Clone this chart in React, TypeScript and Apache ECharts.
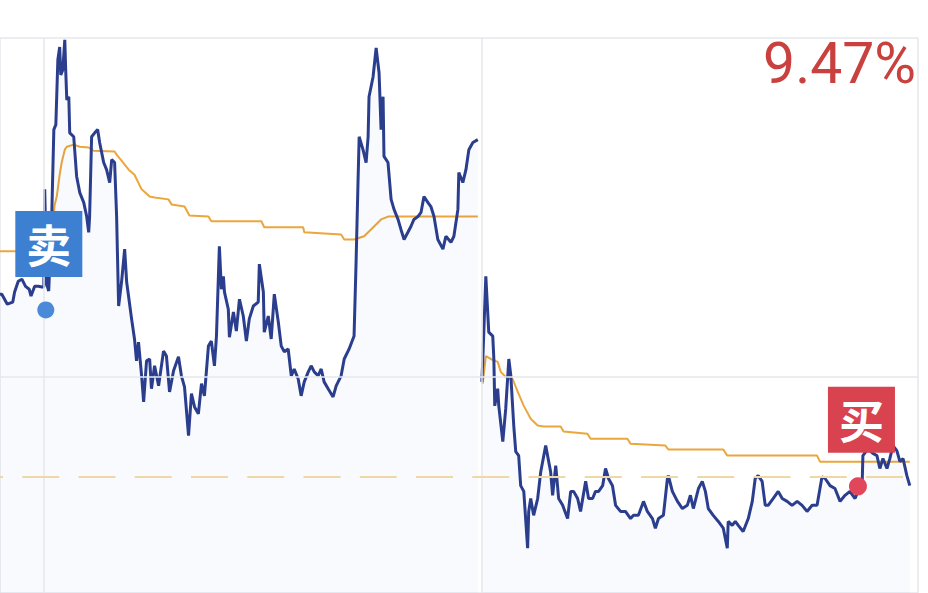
import React, { useEffect, useRef } from "react";
import * as echarts from "echarts";

// axis ranges (percent change vs. previous close, minutes of trading)
const Y_MAX = 9.47;
const Y_MIN = -6.04;
const X_MIN = -24;
const X_MAX = 479;
const daySplits = [0, 240];
const zeroLine = 0;
const costLine = -2.79;
const topLabel = "9.47%";

// [minute, pct]
const pricePrevDay: [number, number][] = [
  [-24, 2.31], [-23, 2.31], [-20, 2.03], [-17, 2.09], [-16, 2.37], [-14, 2.67], [-12, 2.73],
  [-10, 2.53], [-8, 2.45], [-7, 2.26], [-5, 2.53], [-3, 2.53], [-1, 2.51],
];

const priceDay1: [number, number][] = [
  [0.0, 2.51], [0.5, 5.24], [1.6, 2.59], [2.7, 2.4], [4.4, 4.6], [5.5, 6.91], [6.6, 7.05], [7.7, 8.86],
  [8.7, 9.22], [9.3, 8.44], [10.4, 8.58], [11.5, 9.42], [12.0, 8.58], [12.6, 7.74], [13.7, 7.83],
  [14.2, 6.82], [16.4, 6.71], [18.0, 5.6], [19.7, 5.15], [21.9, 4.87], [23.5, 4.48], [24.6, 4.04],
  [25.1, 4.48], [26.2, 6.71], [27.9, 6.82], [29.5, 6.91], [30.6, 6.55], [32.8, 5.99], [34.4, 5.79],
  [36.1, 5.43], [37.2, 6.07], [38.8, 5.99], [39.9, 4.48], [41.0, 1.98], [42.6, 2.65], [44.3, 3.57],
  [45.4, 2.65], [48.1, 1.62], [49.7, 1.06], [50.8, 0.45], [51.9, 0.97], [53.6, 0.03], [54.7, -0.7],
  [56.3, 0.45], [58.0, 0.5], [59.0, -0.33], [60.7, 0.31], [62.9, -0.25], [65.6, 0.72], [67.2, 0.58],
  [68.9, -0.42], [71.1, 0.17], [73.8, 0.56], [75.4, 0.03], [77.1, -0.28], [79.3, -1.64], [80.9, -0.47],
  [82.6, -0.84], [84.7, -1.03], [86.4, -0.19], [88.0, -0.53], [90.2, 0.86], [91.8, 1.0], [93.5, 0.31],
  [94.6, 1.14], [96.2, 3.65], [97.3, 2.45], [98.4, 2.81], [99.0, 2.37], [101.1, 1.89], [101.7, 1.11],
  [103.9, 1.81], [105.5, 1.28], [107.2, 2.17], [109.3, 1.7], [111.0, 1.0], [112.6, 1.62], [114.8, 1.98],
  [117.5, 2.09], [118.1, 3.15], [120.3, 2.37], [120.8, 1.25], [123.0, 1.7], [124.6, 1.06], [126.3, 2.31],
  [128.5, 1.53], [130.1, 0.86], [131.8, 0.7], [133.9, 0.78], [135.6, 0.03], [137.2, 0.22], [139.4, -0.06],
  [141.0, -0.53], [142.7, -0.14], [144.9, 0.14], [146.5, 0.31], [148.2, 0.14], [150.3, 0.03], [152.0, 0.22],
  [153.6, -0.14], [155.8, -0.33], [158.5, -0.56], [160.2, -0.25], [162.9, 0.03], [164.6, 0.5], [167.3, 0.78],
  [170.0, 1.14], [171.1, 3.2], [172.2, 5.52], [172.8, 6.71], [174.9, 6.35], [176.6, 5.99], [177.7, 6.71],
  [178.2, 7.83], [180.4, 8.38], [182.1, 9.19], [183.7, 8.5], [184.8, 6.91], [185.9, 7.83], [186.4, 6.16],
  [188.6, 5.99], [190.3, 4.96], [191.9, 4.68], [194.1, 4.4], [195.7, 4.12], [197.4, 3.84], [199.5, 4.04],
  [201.2, 4.21], [202.8, 4.4], [205.0, 4.48], [206.7, 4.6], [208.3, 5.04], [210.5, 4.87], [212.1, 4.76],
  [213.8, 4.48], [215.9, 3.84], [218.7, 3.57], [220.3, 3.93], [223.1, 3.76], [224.7, 3.93], [226.9, 4.68],
  [227.4, 5.71], [229.6, 5.43], [231.3, 5.79], [232.9, 6.35], [235.1, 6.55], [237.8, 6.63],
];

const priceDay2: [number, number][] = [
  [240.0, -0.14], [240.5, 0.42], [242.2, 2.81], [243.8, 1.25], [246.0, 1.14], [246.6, 0.5], [247.1, -0.81],
  [248.7, -0.33], [249.3, -0.81], [251.5, -1.81], [253.1, -0.89], [254.8, 0.5], [255.9, 0.03], [257.5, -1.36],
  [258.6, -2.09], [260.2, -2.2], [261.3, -3.04], [263.0, -3.2], [265.1, -4.79], [265.7, -3.76], [266.8, -3.4],
  [268.4, -3.87], [270.6, -3.4], [272.3, -2.65], [275.0, -1.92], [277.7, -2.65], [278.8, -3.31], [280.5, -2.48],
  [282.1, -3.4], [284.3, -3.59], [287.0, -3.96], [288.7, -3.2], [290.3, -3.2], [292.5, -3.4], [294.1, -3.76],
  [296.9, -2.92], [298.5, -3.4], [300.7, -3.4], [302.3, -3.2], [304.0, -3.2], [306.2, -3.04], [307.8, -2.56],
  [309.4, -2.84], [311.6, -3.04], [313.3, -3.59], [316.0, -3.76], [318.7, -3.76], [321.5, -3.96], [323.1, -3.87],
  [325.8, -3.87], [328.6, -3.48], [330.7, -3.76], [333.5, -3.96], [335.1, -4.23], [336.8, -3.96], [339.5, -3.87],
  [341.7, -2.84], [342.2, -2.76], [344.4, -3.2], [347.2, -3.48], [349.9, -3.68], [352.6, -3.59], [354.3, -3.31],
  [355.9, -3.68], [358.7, -3.12], [360.8, -2.92], [362.5, -3.2], [364.1, -3.68], [366.8, -3.87], [369.6, -4.04],
  [372.3, -4.23], [374.5, -4.79], [375.0, -4.04], [377.2, -4.15], [378.9, -4.04], [380.5, -4.15], [383.2, -4.32],
  [386.0, -3.96], [388.2, -3.48], [389.8, -2.84], [391.4, -2.76], [393.6, -2.92], [395.3, -3.59], [396.9, -3.59],
  [399.6, -3.4], [402.4, -3.2], [404.6, -3.4], [407.3, -3.48], [410.0, -3.59], [412.8, -3.48], [415.5, -3.59],
  [418.2, -3.76], [421.0, -3.59], [423.7, -3.59], [426.4, -2.79], [428.1, -2.84], [430.8, -3.04], [433.5, -3.12],
  [436.3, -3.48], [439.0, -3.31], [441.7, -3.2], [444.5, -3.4], [446.1, -3.2], [448.3, -3.2], [448.8, -2.2],
  [451.6, -2.01], [454.3, -2.14], [456.5, -2.2], [458.1, -2.56], [459.8, -2.28], [462.0, -2.56], [463.6, -2.28],
  [465.3, -1.92], [467.4, -2.06], [469.1, -2.37], [470.8, -2.28], [472.9, -2.76], [474.5, -3.04],
];

const avgPrevDay: [number, number][] = [[-24, 3.51], [-1, 3.51]];

const avgDay1: [number, number][] = [
  [0, 2.51], [1.6, 3.01], [4.4, 4.12], [6.0, 4.82], [7.1, 5.04], [8.7, 5.65], [9.8, 5.99], [11.5, 6.35],
  [12.6, 6.43], [16.4, 6.49], [19.7, 6.43], [24.6, 6.41], [27.3, 6.32], [38.8, 6.3], [39.9, 6.21], [42.6, 6.04],
  [46.5, 5.79], [49.7, 5.65], [53.6, 5.24], [58.0, 5.04], [60.7, 5.01], [68.3, 4.96], [70.0, 4.82], [77.1, 4.76],
  [79.8, 4.51], [90.2, 4.48], [91.8, 4.35], [119.2, 4.35], [120.8, 4.18], [142.1, 4.18], [142.7, 4.04],
  [162.9, 3.98], [164.6, 3.84], [170.0, 3.84], [175.5, 3.93], [179.3, 4.12], [184.8, 4.4], [188.6, 4.48],
  [237.8, 4.48],
];

const avgDay2: [number, number][] = [
  [240.0, -0.14], [240.5, -0.19], [242.2, 0.58], [244.9, 0.5], [248.7, 0.42], [250.4, 0.14], [254.2, -0.06],
  [256.9, -0.06], [259.7, -0.42], [263.0, -0.81], [266.8, -1.17], [270.6, -1.36], [273.9, -1.39], [283.2, -1.39],
  [284.8, -1.53], [297.9, -1.59], [299.6, -1.73], [319.8, -1.73], [321.5, -1.87], [340.6, -1.92], [342.2, -2.03],
  [372.3, -2.03], [374.5, -2.2], [423.7, -2.2], [425.3, -2.37], [474.5, -2.37],
];

const sellPoint: [number, number] = [1.1, 1.87];
const buyPoint: [number, number] = [446.1, -3.06];

const PRICE_COLOR = "#2b3e8e";
const AVG_COLOR = "#eba63c";
const GRID_COLOR = "#e6e7eb";

export default function App() {
  const ref = useRef<HTMLDivElement>(null);

  useEffect(() => {
    if (!ref.current) return;
    const chart = echarts.init(ref.current, null, { renderer: "svg" });

    const priceSeries = (data: [number, number][]) => ({
      type: "line",
      data,
      symbol: "none",
      z: 3,
      lineStyle: { color: PRICE_COLOR, width: 3 },
      areaStyle: { color: "rgba(30,90,200,0.045)", origin: "start" },
      silent: true,
    });
    const avgSeries = (data: [number, number][]) => ({
      type: "line",
      data,
      symbol: "none",
      z: 2,
      lineStyle: { color: AVG_COLOR, width: 2 },
      silent: true,
    });
    const markerLabel = (text: string, bg: string, offset: [number, number]) => ({
      show: true,
      formatter: text,
      position: "inside",
      offset,
      opacity: 1,
      backgroundColor: bg,
      color: "#ffffff",
      fontSize: 45,
      fontWeight: "bold",
      fontFamily: "Noto Sans CJK SC",
      width: 67,
      height: 66,
      lineHeight: 66,
      align: "center",
      verticalAlign: "middle",
    });

    chart.setOption({
      animation: false,
      backgroundColor: "#ffffff",
      grid: {
        left: -2,
        right: 10,
        top: 38,
        bottom: -2,
        show: true,
        borderColor: GRID_COLOR,
        borderWidth: 1.5,
        backgroundColor: "transparent",
      },
      xAxis: {
        type: "value",
        min: X_MIN,
        max: X_MAX,
        show: false,
        splitLine: { show: false },
      },
      yAxis: {
        type: "value",
        min: Y_MIN,
        max: Y_MAX,
        show: false,
        splitLine: { show: false },
      },
      graphic: [
        {
          type: "text",
          right: 12,
          top: 35,
          z: 10,
          style: {
            text: topLabel,
            fontSize: 57,
            fontFamily: "Roboto",
            fill: "#c9413e",
          },
        },
      ],
      series: [
        {
          type: "line",
          data: [],
          z: 1,
          silent: true,
          markLine: {
            silent: true,
            symbol: "none",
            label: { show: false },
            data: [
              ...daySplits.map((d) => ({ xAxis: d, lineStyle: { color: GRID_COLOR, width: 1.5, type: "solid" } })),
              { yAxis: zeroLine, lineStyle: { color: GRID_COLOR, width: 1.5, type: "solid" } },
              { yAxis: costLine, lineStyle: { color: "#eed9a6", width: 2, type: [37, 19.25], dashOffset: 34 } },
            ],
          },
        },
        avgSeries(avgPrevDay),
        avgSeries(avgDay1),
        avgSeries(avgDay2),
        priceSeries([...pricePrevDay, ...priceDay1]),
        priceSeries(priceDay2),
        {
          type: "scatter",
          data: [sellPoint],
          symbol: "circle",
          symbolSize: 17,
          z: 6,
          itemStyle: { color: "#4a8ad9", opacity: 1 },
          label: markerLabel("卖", "#3d7fd1", [3, -66]),
          silent: true,
        },
        {
          type: "scatter",
          data: [buyPoint],
          symbol: "circle",
          symbolSize: 18,
          z: 6,
          itemStyle: { color: "#e2465a", opacity: 1 },
          label: markerLabel("买", "#d8434f", [3.5, -66.5]),
          silent: true,
        },
      ],
    });

    return () => chart.dispose();
  }, []);

  return (
    <div
      ref={ref}
      style={{ position: "fixed", left: 0, top: 0, width: 928, height: 593, background: "#ffffff" }}
    />
  );
}
